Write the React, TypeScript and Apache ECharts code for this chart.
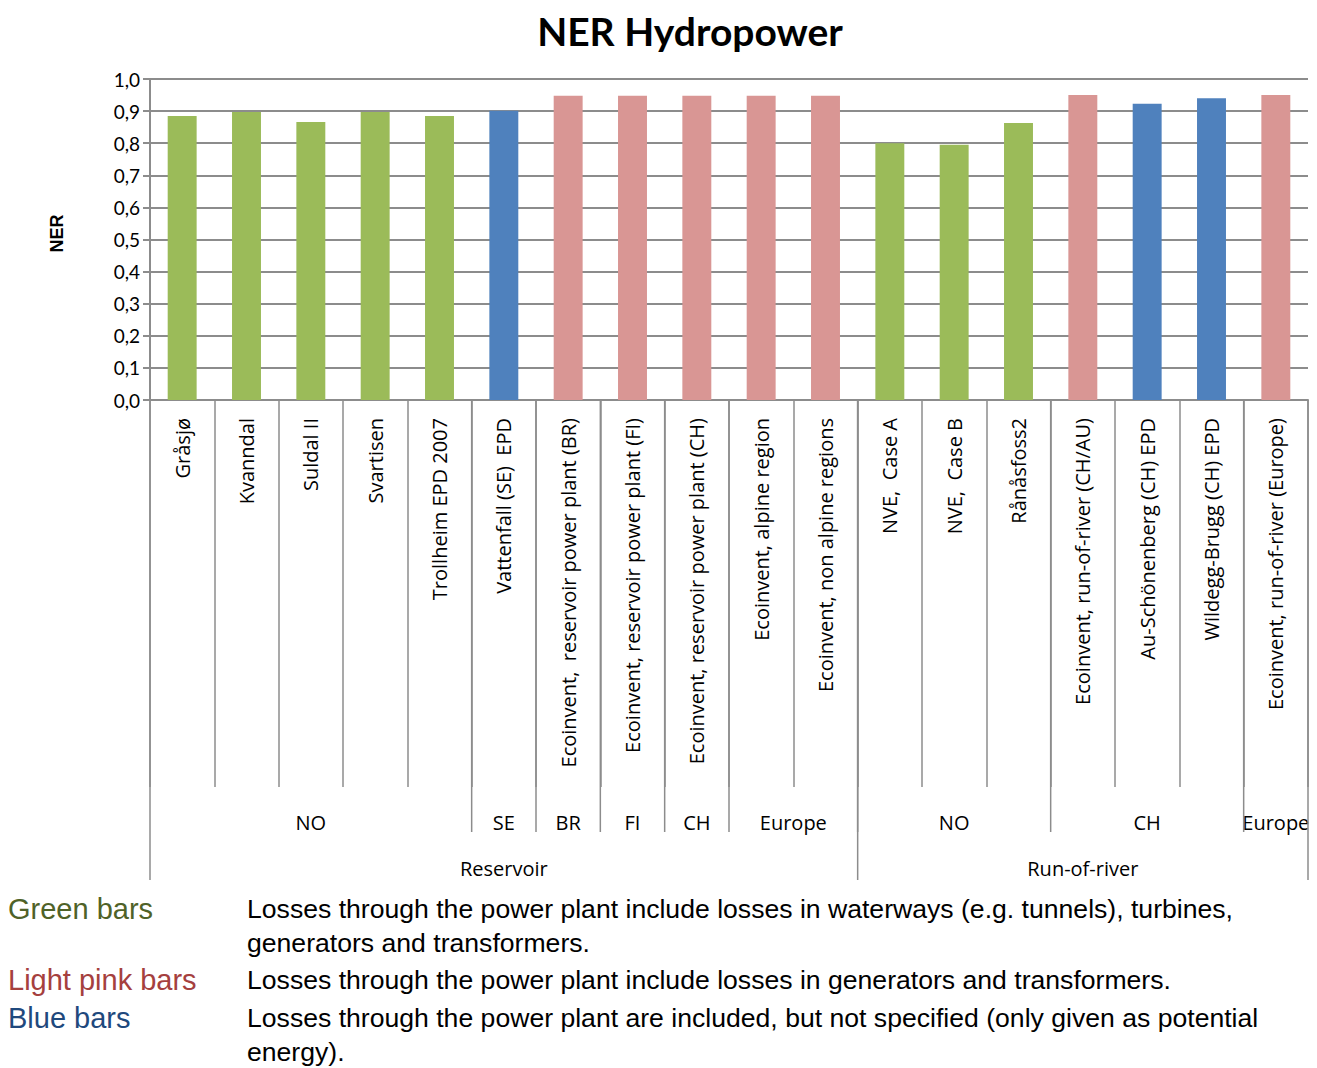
import React, { useEffect, useRef } from "react";
import * as echarts from "echarts";

const categories = [
  "Gråsjø",
  "Kvanndal",
  "Suldal II",
  "Svartisen",
  "Trollheim EPD 2007",
  "Vattenfall (SE)  EPD",
  "Ecoinvent,  reservoir power plant (BR)",
  "Ecoinvent, reservoir power plant (FI)",
  "Ecoinvent, reservoir power plant (CH)",
  "Ecoinvent, alpine region",
  "Ecoinvent, non alpine regions",
  "NVE,  Case A",
  "NVE,  Case B",
  "Rånåsfoss2",
  "Ecoinvent, run-of-river (CH/AU)",
  "Au-Schönenberg (CH) EPD",
  "Wildegg-Brugg (CH) EPD",
  "Ecoinvent, run-of-river (Europe)",
];
const nerValues = [
  0.885, 0.897, 0.866, 0.897, 0.885, 0.901, 0.948, 0.948, 0.948, 0.948, 0.948,
  0.8, 0.795, 0.863, 0.95, 0.923, 0.94, 0.95,
];
const barKinds = [
  "green", "green", "green", "green", "green", "blue", "pink", "pink", "pink",
  "pink", "pink", "green", "green", "green", "pink", "blue", "blue", "pink",
];
const countryGroups = ["NO", "SE", "BR", "FI", "CH", "Europe", "NO", "CH", "Europe"];
const countrySpans = [5, 1, 1, 1, 1, 2, 3, 3, 1];
const typeGroups = ["Reservoir", "Run-of-river"];
const typeSpans = [11, 7];
const legendNames = ["Green bars", "Light pink bars", "Blue bars"];
const legendTexts = [
  [
    "Losses through the power plant include losses in waterways (e.g. tunnels), turbines,",
    "generators and transformers.",
  ],
  ["Losses through the power plant include losses in generators and transformers."],
  [
    "Losses through the power plant are included, but not specified (only given as potential",
    "energy).",
  ],
];

const BAR_COLORS: Record<string, string> = {
  green: "#9BBB59",
  pink: "#D99694",
  blue: "#4F81BD",
};
const LEGEND_COLORS = ["#4F6228", "#A5403E", "#1F497D"];
const LINE_COLOR = "#8C8C8C";

const W = 1317;
const H = 1068;

export default function App() {
  const ref = useRef<HTMLDivElement>(null);

  useEffect(() => {
    document.body.style.margin = "0";
    const chart = echarts.init(ref.current!, null, { renderer: "svg" });

    const option: any = {
      animation: false,
      backgroundColor: "#ffffff",
      title: {
        text: "NER Hydropower",
        left: 685,
        textAlign: "center",
        top: 6,
        textStyle: {
          fontFamily: "Lato",
          fontWeight: "bold",
          fontSize: 39,
          color: "#000",
        },
      },
      grid: { left: 150, right: 9, top: 79, bottom: 668 },
      xAxis: {
        type: "category",
        data: categories,
        boundaryGap: true,
        axisLine: { show: true, lineStyle: { color: LINE_COLOR, width: 2 } },
        axisTick: {
          show: true,
          interval: 0,
          length: 387,
          lineStyle: { color: LINE_COLOR, width: 1.5 },
        },
        axisLabel: {
          interval: 0,
          rotate: 90,
          margin: 18,
          fontFamily: "Open Sans",
          fontSize: 20,
          color: "#000",
        },
      },
      yAxis: {
        type: "value",
        min: 0,
        max: 1,
        interval: 0.1,
        name: "NER",
        nameLocation: "middle",
        nameRotate: 90,
        nameGap: 84,
        nameTextStyle: {
          fontFamily: "Liberation Sans",
          fontWeight: "bold",
          fontSize: 18,
          color: "#000",
          padding: [0, 0, 0, 12],
        },
        axisLine: { show: true, lineStyle: { color: LINE_COLOR, width: 2 } },
        axisTick: { show: true, inside: false, length: 7, lineStyle: { color: LINE_COLOR, width: 2 } },
        splitLine: { show: true, lineStyle: { color: LINE_COLOR, width: 2 } },
        axisLabel: {
          margin: 10,
          fontFamily: "Lato",
          fontSize: 19,
          color: "#000",
          formatter: (v: number) => v.toFixed(1).replace(".", ","),
        },
      },
      series: [
        {
          type: "bar",
          barWidth: "45%",
          data: nerValues.map((v, i) => ({
            value: v,
            itemStyle: { color: BAR_COLORS[barKinds[i]] },
          })),
        },
      ],
    };
    chart.setOption(option);

    const base = chart.convertToPixel({ yAxisIndex: 0 }, 0) as number;
    const c0 = chart.convertToPixel({ xAxisIndex: 0 }, 0) as number;
    const c1 = chart.convertToPixel({ xAxisIndex: 0 }, 1) as number;
    const step = c1 - c0;
    const edge = (i: number) => c0 - step / 2 + i * step;

    const countryLineEnd = base + 432;
    const typeLineEnd = base + 480;
    const countryTextY = base + 422;
    const typeTextY = base + 468;

    const elements: any[] = [];
    const lineEl = (x: number, y2: number) => ({
      type: "line",
      silent: true,
      shape: { x1: x, y1: base, x2: x, y2 },
      style: { stroke: LINE_COLOR, lineWidth: 1.5 },
    });
    const textEl = (text: string, x: number, y: number) => ({
      type: "text",
      silent: true,
      style: {
        text,
        x,
        y,
        align: "center",
        verticalAlign: "middle",
        fontFamily: "Open Sans",
        fontSize: 20,
        fill: "#000",
      },
    });

    let idx = 0;
    countryGroups.forEach((g, k) => {
      const start = idx;
      const end = idx + countrySpans[k];
      elements.push(textEl(g, (edge(start) + edge(end)) / 2, countryTextY));
      if (k > 0) elements.push(lineEl(edge(start), countryLineEnd));
      idx = end;
    });
    idx = 0;
    typeGroups.forEach((g, k) => {
      const start = idx;
      const end = idx + typeSpans[k];
      elements.push(textEl(g, (edge(start) + edge(end)) / 2, typeTextY));
      elements.push(lineEl(edge(start), typeLineEnd));
      if (k === typeGroups.length - 1) elements.push(lineEl(edge(end), typeLineEnd));
      idx = end;
    });

    const rowY = [909, 980, 1018];
    const lineStep = 34;
    legendNames.forEach((name, k) => {
      elements.push({
        type: "text",
        silent: true,
        style: {
          text: name,
          x: 8,
          y: rowY[k],
          align: "left",
          verticalAlign: "middle",
          fontFamily: "Liberation Sans",
          fontSize: 29,
          fill: LEGEND_COLORS[k],
        },
      });
      legendTexts[k].forEach((t, j) => {
        elements.push({
          type: "text",
          silent: true,
          style: {
            text: t,
            x: 247,
            y: rowY[k] + j * lineStep,
            align: "left",
            verticalAlign: "middle",
            fontFamily: "Liberation Sans",
            fontSize: 26.6,
            fill: "#000",
          },
        });
      });
    });

    chart.setOption({ graphic: elements });

    return () => chart.dispose();
  }, []);

  return <div ref={ref} style={{ width: W, height: H }} />;
}
